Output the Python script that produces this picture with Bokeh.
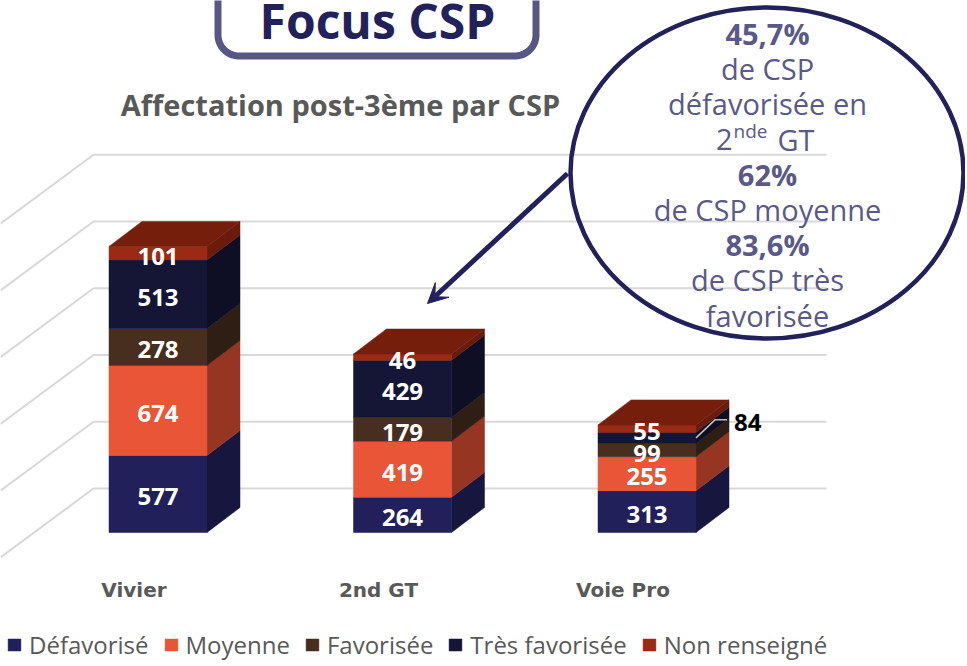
import numpy as np
from bokeh.plotting import figure
from bokeh.models import Range1d, ColumnDataSource, Legend, LegendItem, Arrow, VeeHead
from bokeh.core.properties import value
from bokeh.embed import file_html
from bokeh.resources import INLINE

# ---------------- data ----------------
categories = ["Vivier", "2nd GT", "Voie Pro"]
series = ["Défavorisé", "Moyenne", "Favorisée", "Très favorisée", "Non renseigné"]
defavorise = [577, 264, 313]
moyenne = [674, 419, 255]
favorisee = [278, 179, 99]
tres_favorisee = [513, 429, 84]
non_renseigne = [101, 46, 55]
grid_values = [0, 500, 1000, 1500, 2000, 2500]

title_text = "Affectation post-3ème par CSP"
focus_text = "Focus CSP"
callout_lines = ["45,7%", "de CSP", "défavorisée en", None, "62%",
                 "de CSP moyenne", "83,6%", "de CSP très", "favorisée"]
callout_bold = [True, False, False, False, True, False, True, False, False]

# ---------------- styles ----------------
front_colors = ["#21205B", "#E85537", "#472E1E", "#151536", "#9B2A14"]
side_colors = ["#17163F", "#963522", "#2F1E14", "#0E0E25", "#6A1B0B"]
top_color = "#761E0C"
grid_color = "#D9D9D9"
gray_text = "#595959"
navy = "#22215A"
callout_color = "#5A5987"
FONT = "Open Sans"
CAT_FONT = "DejaVu Sans"

# ---------------- layout / projection ----------------
W, H = 965, 664
OX, OY = 0, 0
X0, SP = 157.5, 244.5    # px of first category front-centre, px per category
K, Y0 = 0.1335, 532.0    # px per unit, px of value 0 (front floor)

def X(px): return (px - X0) / SP
def Y(py): return (Y0 - py) / K
def DX(px): return px / SP
def DY(px): return px / K

hw = DX(49)
ddx, ddy = DX(33), DY(25)

p = figure(width=W, height=H, output_backend="svg", toolbar_location=None,
           x_range=Range1d(X(OX), X(OX + W)), y_range=Range1d(Y(OY + H), Y(OY)),
           min_border=0, outline_line_color=None)
p.axis.visible = False
p.grid.visible = False
p.background_fill_color = "white"

# ---------------- back wall grid ----------------
wall_base = Y(488)
gx, gy = [], []
for v in grid_values:
    yb = wall_base + v
    gx.append([X(0), X(93), X(826)])
    gy.append([yb - DY(63 * 93 / 85), yb, yb])
p.multi_line(gx, gy, line_color=grid_color, line_width=2)

# ---------------- bars ----------------
vals = [defavorise, moyenne, favorisee, tres_favorisee, non_renseigne]
n = len(categories)
cum = np.zeros(n)
front_renderers = []
label_x, label_y, label_t = [], [], []
outside = []
for s, arr in enumerate(vals):
    a = np.array(arr, dtype=float)
    bottom = cum.copy()
    top = cum + a
    idx = np.arange(n)
    src = ColumnDataSource(dict(left=idx - hw, right=idx + hw, bottom=bottom, top=top))
    xs = [[i + hw, i + hw + ddx, i + hw + ddx, i + hw] for i in idx]
    ys = [[b, b + ddy, t + ddy, t] for b, t in zip(bottom, top)]
    p.patches(xs, ys, fill_color=side_colors[s], line_color=side_colors[s], line_width=0.5)
    r = p.quad(left="left", right="right", bottom="bottom", top="top", source=src,
               fill_color=front_colors[s], line_color=front_colors[s], line_width=0.5)
    front_renderers.append(r)
    for i in idx:
        mid = (bottom[i] + top[i]) / 2
        if a[i] * K < 12 and s == 3:
            outside.append((i, mid, int(a[i])))
        else:
            label_x.append(i)
            label_y.append(mid)
            label_t.append(str(int(a[i])))
    cum = top

# top faces
tx = [[i - hw, i + hw, i + hw + ddx, i - hw + ddx] for i in range(n)]
ty = [[t, t, t + ddy, t + ddy] for t in cum]
p.patches(tx, ty, fill_color=top_color, line_color=top_color, line_width=0.5)

p.text(label_x, label_y, text=label_t, text_color="white", text_font=value(FONT),
       text_font_style="bold", text_font_size="24px", text_align="center",
       text_baseline="middle", y_offset=3)

for (i, mid, v) in outside:
    p.line([i + hw, i + hw + DX(19), i + hw + DX(31)],
           [mid, mid + DY(18), mid + DY(18)], line_color="#BFBFBF", line_width=1.5)
    p.text([i + hw + DX(38)], [mid + DY(15)], text=[str(v)], text_color="black",
           text_font=value(FONT), text_font_style="bold", text_font_size="24px",
           text_align="left", text_baseline="middle")

# category labels
p.text([i - DX(24) for i in range(n)], [Y(589)] * n, text=categories,
       text_color=gray_text, text_font=value(CAT_FONT), text_font_style="bold",
       text_font_size="20px", text_align="center", text_baseline="middle")

# ---------------- title ----------------
p.text([X(340)], [Y(104)], text=[title_text], text_color=gray_text,
       text_font=value(FONT), text_font_style="bold", text_font_size="29px",
       text_align="center", text_baseline="middle")

# ---------------- Focus CSP box ----------------
L, R, B, T, rad = 217.5, 535.5, 55.5, -40.0, 21.0
ang = np.linspace(0, np.pi / 2, 12)
bx = [L, L] + list(L + rad - rad * np.cos(ang)) + list(R - rad + rad * np.sin(ang)) + [R, R]
by = [T, B - rad] + list(B - rad + rad * np.sin(ang)) + list(B - rad + rad * np.cos(ang)) + [B - rad, T]
p.patch([X(x) for x in bx], [Y(y) for y in by], fill_color="white",
        line_color="#585682", line_width=7)
p.text([X(377)], [Y(20)], text=[focus_text], text_color=navy, text_font=value(FONT),
       text_font_style="bold", text_font_size="48px", text_align="center",
       text_baseline="alphabetic")

# ---------------- callout ellipse ----------------
p.ellipse(x=[X(766.5)], y=[Y(172.5)], width=[DX(393)], height=[DY(331)],
          fill_alpha=0, line_color=navy, line_width=4.5)
p.add_layout(Arrow(end=VeeHead(size=20, fill_color=navy, line_color=navy),
                   x_start=X(567), y_start=Y(173), x_end=X(427), y_end=Y(303),
                   line_color=navy, line_width=5))

cx = X(767)
for k, (txt, bold) in enumerate(zip(callout_lines, callout_bold)):
    py = 33 + 35.2 * k
    if txt is None:
        p.text([X(732)], [Y(py)], text=["2"], text_color=callout_color, text_font=value(FONT),
               text_font_size="29px", text_align="right", text_baseline="middle")
        p.text([X(733)], [Y(py - 8)], text=["nde"], text_color=callout_color,
               text_font=value(FONT), text_font_size="19px", text_align="left",
               text_baseline="middle")
        p.text([X(777)], [Y(py)], text=["GT"], text_color=callout_color, text_font=value(FONT),
               text_font_size="29px", text_align="left", text_baseline="middle")
        continue
    p.text([cx], [Y(py)], text=[txt], text_color=callout_color, text_font=value(FONT),
           text_font_style="bold" if bold else "normal", text_font_size="29px",
           text_align="center", text_baseline="middle")

# ---------------- legend ----------------
legend = Legend(items=[LegendItem(label=s, renderers=[r]) for s, r in zip(series, front_renderers)],
                orientation="horizontal", location=(6, 3), padding=0, margin=0,
                spacing=14, label_standoff=7, glyph_width=16, glyph_height=15,
                label_height=17, label_text_line_height=1.0,
                label_text_font=FONT, label_text_font_size="24px",
                label_text_color=gray_text, border_line_color=None,
                background_fill_alpha=0)
p.add_layout(legend, "center")

open("out.html", "w").write(file_html(p, INLINE))
